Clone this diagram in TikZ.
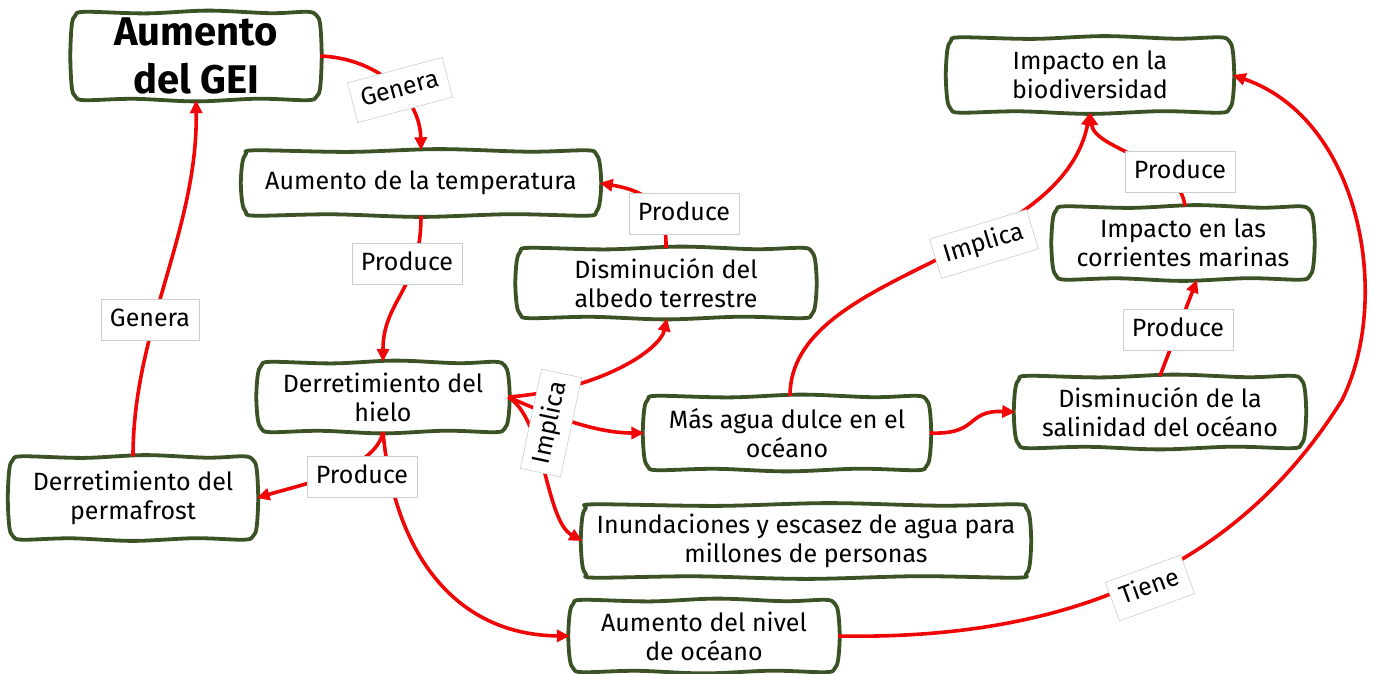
\documentclass[tikz,border=0pt]{standalone}
\usepackage{fontspec}
\setmainfont{Fira Sans}
\usetikzlibrary{arrows.meta,calc}
\definecolor{boxgreen}{RGB}{58,82,36}
\definecolor{linkred}{RGB}{240,6,6}
\definecolor{tagframe}{RGB}{205,205,205}

% hand-drawn looking frame around a named node
\newcommand\wobblebox[1]{%
  \draw[frame] plot[smooth cycle, tension=0.55] coordinates {
    ($(#1.north west)+(13,0)$)
    ($(#1.north west)!0.3!(#1.north east)+(0,1.6)$)
    ($(#1.north west)!0.55!(#1.north east)+(0,-1.2)$)
    ($(#1.north west)!0.8!(#1.north east)+(0,1.4)$)
    ($(#1.north east)+(-13,0)$)
    ($(#1.north east)+(-3.6,3.6)$)
    ($(#1.north east)+(0,13)$)
    ($(#1.north east)!0.5!(#1.south east)+(1.5,0)$)
    ($(#1.south east)+(0,-13)$)
    ($(#1.south east)+(-3.6,-3.6)$)
    ($(#1.south east)+(-13,0)$)
    ($(#1.south east)!0.25!(#1.south west)+(0,-1.5)$)
    ($(#1.south east)!0.5!(#1.south west)+(0,1.2)$)
    ($(#1.south east)!0.75!(#1.south west)+(0,-1.4)$)
    ($(#1.south west)+(13,0)$)
    ($(#1.south west)+(3.6,-3.6)$)
    ($(#1.south west)+(0,-13)$)
    ($(#1.south west)!0.5!(#1.north west)+(-1.5,0)$)
    ($(#1.north west)+(0,13)$)
    ($(#1.north west)+(3.6,3.6)$)
  };}

\begin{document}
\begin{tikzpicture}[x=1pt,y=-1pt,
  concept/.style={align=center, inner sep=0pt, font=\fontsize{25}{29}\selectfont},
  frame/.style={draw=boxgreen, line width=3.8pt, line join=round},
  tag/.style={draw=tagframe, line width=0.6pt, fill=white,
    font=\fontsize{25}{29}\selectfont, inner xsep=9pt, inner ysep=10pt,
    text height=17pt, text depth=4pt},
  link/.style={draw=linkred, line width=3.6pt},
  arr/.style={link, -{Triangle[length=13pt,width=12pt]}}]

\useasboundingbox (0,0) rectangle (1377,674);

% concept boxes
\node[concept, minimum width=248pt, minimum height=88pt,
      font=\fontsize{40}{48}\selectfont\bfseries] (gei) at (196,56) {Aumento\\del GEI};
\node[concept, minimum width=357pt, minimum height=65pt] (temp) at (421,183) {Aumento de la temperatura};
\node[concept, minimum width=298pt, minimum height=70pt] (albedo) at (666,283) {Disminución del\\albedo terrestre};
\node[concept, minimum width=250pt, minimum height=70pt] (hielo) at (383,397) {Derretimiento del\\hielo};
\node[concept, minimum width=247pt, minimum height=83pt] (perma) at (133,498) {Derretimiento del\\permafrost};
\node[concept, minimum width=285pt, minimum height=74pt] (agua) at (787,433) {Más agua dulce en el\\océano};
\node[concept, minimum width=447pt, minimum height=73pt] (inund) at (806,541) {Inundaciones y escasez de agua para\\millones de personas};
\node[concept, minimum width=268pt, minimum height=72pt] (nivel) at (704,636) {Aumento del nivel\\de océano};
\node[concept, minimum width=285pt, minimum height=75pt] (biodiv) at (1090,75) {Impacto en la\\biodiversidad};
\node[concept, minimum width=260pt, minimum height=73pt] (corr) at (1183,243) {Impacto en las\\corrientes marinas};
\node[concept, minimum width=289pt, minimum height=72pt] (sal) at (1160,412) {Disminución de la\\salinidad del océano};

\foreach \n in {gei,temp,albedo,hielo,perma,agua,inund,nivel,biodiv,corr,sal}
  {\wobblebox{\n}}

% connectors
\draw[arr] (gei.east) .. controls (375,58) and (420,95) .. (temp.north);
\draw[arr] (perma.north) .. controls (133,330) and (198,230) .. (gei.south);
\draw[arr] (temp.south) .. controls (421,290) and (383,300) .. (hielo.north);
\draw[arr] (albedo.north) .. controls (667,200) and (640,190) .. (temp.east);
\draw[arr] (hielo.south) .. controls (375,470) and (300,485) .. (perma.east);
\draw[arr] (hielo.south) .. controls (395,560) and (460,635) .. (nivel.west);
\draw[arr] (hielo.east) .. controls (600,390) and (660,350) .. ([xshift=1pt]albedo.south);
\draw[arr] (hielo.east) .. controls (560,420) and (600,433) .. (agua.west);
\draw[arr] (hielo.east) .. controls (545,420) and (545,520) .. (inund.west);
\draw[arr] ([xshift=3pt]agua.north) .. controls (790,270) and (1060,260) .. (biodiv.south);
\draw[arr] ([xshift=2pt]corr.north) .. controls (1180,160) and (1095,150) .. (biodiv.south);
\draw[arr] (agua.east) .. controls (980,435) and (965,410) .. (sal.west);
\draw[arr] (sal.north) -- ([xshift=14pt]corr.south);
\coordinate (swing) at (1342,400);
\draw[arr] (nivel.east) .. controls (1050,640) and (1230,580) .. (swing)
  .. controls (1392,300) and (1362,120) .. (biodiv.east);

% link labels
\node[tag, rotate=15] (lgenA) at (400,90) {Genera};
\node[tag] (lgenB) at (150,320) {Genera};
\node[tag] (lprodA) at (407,264) {Produce};
\node[tag] (lprodB) at (684,214) {Produce};
\node[tag] (lprodC) at (362,477) {Produce};
\node[tag, rotate=78] (limpA) at (551,423) {Implica};
\node[tag, rotate=17] (limpB) at (984,244) {Implica};
\node[tag] (lprodD) at (1180,172) {Produce};
\node[tag] (lprodE) at (1178,330) {Produce};
\node[tag, rotate=20] (ltiene) at (1150,588) {Tiene};
\end{tikzpicture}
\end{document}
